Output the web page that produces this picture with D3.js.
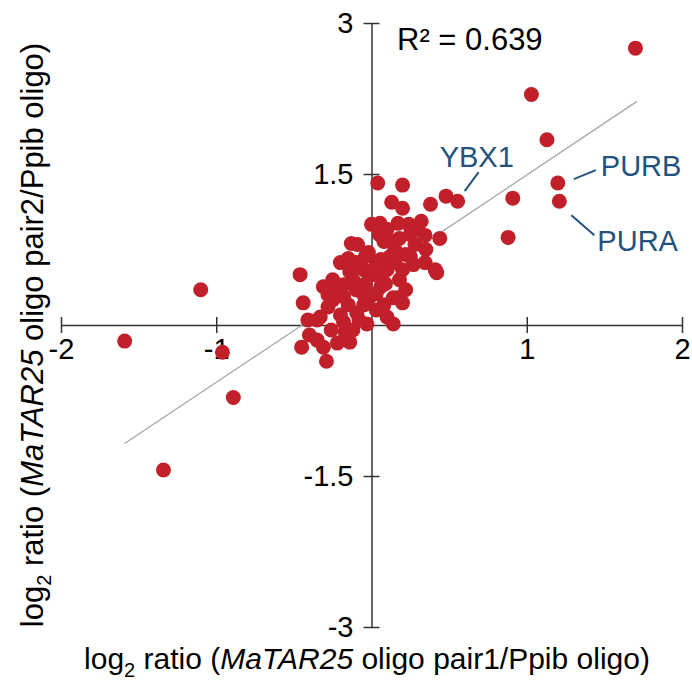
<!DOCTYPE html>
<html>
<head>
<meta charset="utf-8">
<script src="https://cdn.jsdelivr.net/npm/d3@7"></script>
<style>
  body { margin: 0; background: #fff; }
  svg { font-family: "Liberation Sans", Arial, sans-serif; }
</style>
</head>
<body>
<svg width="692" height="681"></svg>
<script>
// log2 ratio, oligo pair1 (x) vs oligo pair2 (y)
var xVals = [1.70, 1.03, 1.13, 1.20, 1.21, 0.91, 0.88, 0.555, 0.48, 0.38, -1.59, -0.96, -0.89, -1.34, -1.10,
  0.04, 0.20, 0.13, 0.20, 0.00, 0.055, 0.17, 0.24, 0.32, 0.345, 0.44, 0.18, 0.08, 0.12, -0.13, -0.09, 0.22, 0.25,
  0.345, 0.41, 0.42, 0.12, 0.03, 0.06, 0.20, -0.15, -0.04, -0.14, -0.46, -0.25, -0.31, 0.09, -0.04, 0.00, 0.10,
  -0.08, 0.15, 0.28, 0.30, 0.05, -0.02,
  -0.44, -0.18, -0.01, 0.14, 0.20, 0.17, -0.28, -0.095, 0.03, 0.03, -0.41, -0.33, -0.18, -0.03, 0.14, -0.45, -0.40,
  -0.31, -0.29, -0.14, -0.17, -0.12, -0.22, -0.35, -0.23, -0.10, -0.05, -0.20, -0.26, 0.06, -0.12,
  -0.05, 0.05, -0.10, 0.15, 0.25, 0.10, -0.20, -0.25, -0.15, 0.08, 0.10, -0.08, -0.35, -0.28, 0.18, 0.22,
  -0.18, -0.05, 0.27, 0.35];
var yVals = [2.75, 2.29, 1.84, 1.41, 1.23, 1.26, 0.87, 1.23, 1.28, 1.20, -0.16, -0.27, -0.72, -1.44, 0.35,
  1.41, 1.39, 1.22, 1.16, 1.00, 1.01, 1.01, 1.00, 1.03, 0.89, 0.86, 0.86, 0.83, 0.84, 0.81, 0.80, 0.70, 0.68,
  0.62, 0.55, 0.52, 0.68, 0.62, 0.65, 0.55, 0.66, 0.68, 0.53, 0.50, 0.45, 0.38, 0.41, 0.41, 0.50, 0.55,
  0.58, 0.75, 0.80, 0.95, 0.90, 0.72,
  0.22, 0.28, 0.28, 0.27, 0.22, 0.27, 0.18, 0.12, 0.15, 0.31, 0.05, 0.08, 0.03, 0.01, 0.01, -0.22, -0.10,
  -0.22, -0.36, -0.17, -0.07, -0.05, -0.18, 0.05, 0.35, 0.35, 0.20, 0.10, -0.05, 0.38, 0.45,
  0.55, 0.48, 0.62, 0.62, 0.90, 0.95, 0.62, 0.25, 0.20, 0.20, 0.08, 0.05, -0.15, 0.30, 0.45, 0.35,
  0.40, 0.30, 0.60, 0.75];

// linear fit drawn on the chart
var fitX = [-1.59, 1.71];
var fitSlope = 1.03, fitIntercept = 0.46;
var rSquared = "R\u00b2 = 0.639";

var xTicks = [-2, -1, 1, 2];
var yTicks = [-3, -1.5, 1.5, 3];

// labelled genes: index of point, label
var genes = [
  {name: "YBX1", i: 7},
  {name: "PURB", i: 3},
  {name: "PURA", i: 4}
];

var points = xVals.map(function(d, i) { return {x: d, y: yVals[i]}; });

var svg = d3.select("svg");

var x = d3.scaleLinear().domain([-2, 2]).range([61, 682]);
var y = d3.scaleLinear().domain([-3, 3]).range([627, 23]);

// axes cross at the origin, ticks go through the line
var xAxis = svg.append("g")
    .attr("transform", "translate(0," + y(0) + ")")
    .call(d3.axisBottom(x).tickValues(xTicks).tickSize(8).tickSizeOuter(0).tickFormat(function(d) { return String(d); }));
xAxis.selectAll(".tick line").attr("y1", -8).attr("y2", 8);
xAxis.selectAll(".tick text").attr("y", 13).attr("dy", "0.71em").style("font-size", "29px");

var yAxis = svg.append("g")
    .attr("transform", "translate(" + x(0) + ",0)")
    .call(d3.axisLeft(y).tickValues(yTicks).tickSize(8).tickSizeOuter(0).tickFormat(function(d) { return String(d); }));
yAxis.selectAll(".tick line").attr("x1", -8).attr("x2", 8);
yAxis.selectAll(".tick text").attr("x", -18).style("font-size", "29px");

svg.selectAll(".domain, .tick line").attr("stroke", "#333").attr("stroke-width", 1.5);
svg.selectAll(".tick text").attr("fill", "#000").attr("font-family", null);

// fit line
svg.append("line")
    .attr("x1", x(fitX[0]))
    .attr("y1", y(fitIntercept + fitSlope * fitX[0]))
    .attr("x2", x(fitX[1]))
    .attr("y2", y(fitIntercept + fitSlope * fitX[1]))
    .style("stroke", "#a6a6a6")
    .style("stroke-width", 1.3);

svg.append("g").selectAll("circle")
    .data(points)
    .enter().append("circle")
    .attr("cx", function(d) { return x(d.x); })
    .attr("cy", function(d) { return y(d.y); })
    .attr("r", 7.5)
    .style("fill", "#c1202a");

svg.append("text")
    .attr("x", 397)
    .attr("y", 50)
    .style("font-size", "31px")
    .text(rSquared);

// gene labels with leader lines (offsets from their point)
var labelPos = {
  YBX1: {tx: -18, ty: -34, l: [7, -10, 21, -29]},
  PURB: {tx: 43, ty: -7, l: [16, -4, 38, -13]},
  PURA: {tx: 38, ty: 50, l: [12, 14, 35, 34]}
};
var gl = svg.append("g").selectAll("g").data(genes).enter().append("g");
gl.append("line")
    .attr("x1", function(d) { return x(xVals[d.i]) + labelPos[d.name].l[0]; })
    .attr("y1", function(d) { return y(yVals[d.i]) + labelPos[d.name].l[1]; })
    .attr("x2", function(d) { return x(xVals[d.i]) + labelPos[d.name].l[2]; })
    .attr("y2", function(d) { return y(yVals[d.i]) + labelPos[d.name].l[3]; })
    .style("stroke", "#24527f")
    .style("stroke-width", 2);
gl.append("text")
    .attr("x", function(d) { return x(xVals[d.i]) + labelPos[d.name].tx; })
    .attr("y", function(d) { return y(yVals[d.i]) + labelPos[d.name].ty; })
    .style("font-size", "29px")
    .style("fill", "#24527f")
    .text(function(d) { return d.name; });

// axis titles
function title(sel, pair) {
  sel.append("tspan").text("log");
  sel.append("tspan").attr("dy", 8).style("font-size", "20px").text("2");
  sel.append("tspan").attr("dy", -8).text(" ratio (");
  sel.append("tspan").style("font-style", "italic").text("MaTAR25");
  sel.append("tspan").text(" oligo " + pair + "/Ppib oligo)");
}
svg.append("text")
    .attr("x", 367)
    .attr("y", 669)
    .attr("text-anchor", "middle")
    .style("font-size", "30px")
    .call(title, "pair1");
svg.append("text")
    .attr("transform", "translate(43,335) rotate(-90)")
    .attr("text-anchor", "middle")
    .style("font-size", "31px")
    .call(title, "pair2");
</script>
</body>
</html>
